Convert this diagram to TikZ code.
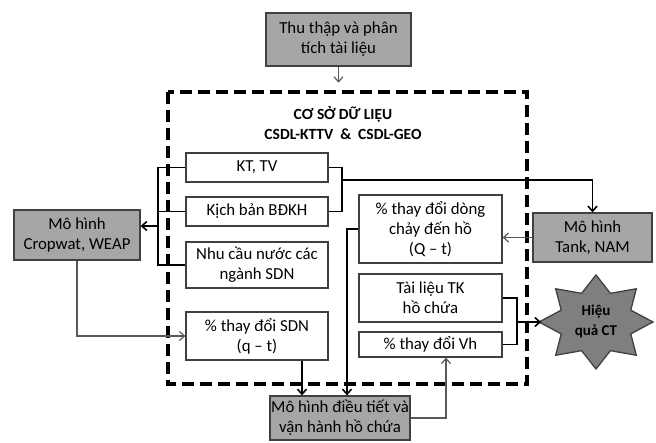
\documentclass[tikz,border=0pt]{standalone}
\usepackage{fontspec}
\setmainfont{Carlito}
\usetikzlibrary{arrows.meta,calc}
\definecolor{boxline}{HTML}{404040}
\definecolor{boxgray}{HTML}{A6A6A6}
\definecolor{stargray}{HTML}{7F7F7F}
\definecolor{thingray}{HTML}{595959}
\begin{document}
\begin{tikzpicture}[x=1pt,y=-1pt,
  box/.style={draw=boxline, line width=1.3pt, fill=white, align=center, inner sep=1pt,
    font=\fontsize{16.8}{20}\selectfont},
  gbox/.style={box, fill=boxgray},
  blackline/.style={draw=black, line width=1.8pt},
  blackarrow/.style={blackline, -{Straight Barb[length=5pt,width=9pt,line width=1.6pt]}},
  grayline/.style={draw=thingray, line width=1.2pt},
  grayarrow/.style={grayline, -{Straight Barb[length=5pt,width=9pt,line width=1.2pt]}},
  dashbox/.style={draw=black, line width=3.6pt, dash pattern=on 12pt off 6pt},
  starstyle/.style={fill=stargray, draw=boxline, line width=1.3pt},
  title/.style={align=center, font=\fontsize{15.5}{20}\selectfont\bfseries},
  startext/.style={align=center, font=\fontsize{15}{20}\selectfont\bfseries}
]
\useasboundingbox (0,0) rectangle (656,442);

% dashed database frame
\draw[dashbox] (168,92) rectangle (527,384);
\node[title] (db) at (343,123) {CƠ SỞ DỮ LIỆU\\CSDL-KTTV\ \ \&\ \ CSDL-GEO};

% boxes
\node[gbox, minimum width=145pt, minimum height=53pt] (thu) at (338.5,39.5) {Thu thập và phân\\tích tài liệu};
\node[box, minimum width=142pt, minimum height=29pt] (kttv) at (257,167.5) {KT, TV};
\node[box, minimum width=142pt, minimum height=29pt] (kb) at (257,211.5) {Kịch bản BĐKH};
\node[box, minimum width=142pt, minimum height=46pt] (nc) at (257,265) {Nhu cầu nước các\\ngành SDN};
\node[box, minimum width=142pt, minimum height=48pt] (sdn) at (257,336) {\% thay đổi SDN\\(q – t)};
\node[box, minimum width=143pt, minimum height=68pt] (dc) at (430.5,229) {\% thay đổi dòng\\chảy đến hồ\\(Q – t)};
\node[box, minimum width=143pt, minimum height=48pt] (tk) at (430.5,298) {Tài liệu TK\\hồ chứa};
\node[box, minimum width=143pt, minimum height=25pt] (vh) at (430.5,344.5) {\% thay đổi Vh};
\node[gbox, minimum width=126pt, minimum height=50pt] (crop) at (77,235) {Mô hình\\Cropwat, WEAP};
\node[gbox, minimum width=119pt, minimum height=49pt] (tank) at (592.5,237.5) {Mô hình\\Tank, NAM};
\node[gbox, minimum width=140pt, minimum height=44pt] (bot) at (340,418) {Mô hình điều tiết và\\vận hành hồ chứa};

% star
\path[starstyle, shift={(596,322)}] (90:57 and 47)
  \foreach \k in {0,...,7}{ -- ({112.5+45*\k}:{57*0.66} and {47*0.66}) -- ({135+45*\k}:57 and 47)} -- cycle;
\node[startext] (star) at (596,321) {Hiệu\\quả CT};
\coordinate (starL) at (541,322);

% helper coordinates
\coordinate (Lb) at (158,0);
\coordinate (Rb) at (342,180);
\coordinate (Rb2) at (517,322);
\coordinate (dcx) at (347,0);
\coordinate (sdnx) at (302,0);
\coordinate (vhx) at (446,0);

% connectors
\draw[grayarrow] (thu.south) -- ++(0,16);

\draw[blackline] (kttv.west) -| (Lb |- nc.west) -- (nc.west);
\draw[blackline] (kb.west) -- (Lb |- kb.west);
\draw[blackarrow] (Lb |- 0,226) -- (crop.east |- 0,226);

\draw[blackline] (kttv.east) -| (Rb |- kb.east) -- (kb.east);
\draw[blackarrow] (Rb) -| (tank.north);

\draw[grayarrow] (tank.west) -- (tank.west -| dc.east);
\draw[blackarrow] (dc.west) -| (dcx |- bot.north);

\draw[grayarrow] (crop.south) |- (sdn.west);
\draw[blackarrow] (sdnx |- sdn.south) -- (sdnx |- bot.north);

\draw[blackline] (tk.east) -| (Rb2 |- vh.east) -- (vh.east);
\draw[blackarrow] (Rb2) -- (starL);

\draw[grayarrow] (bot.east) -| (vhx |- vh.south);
\end{tikzpicture}
\end{document}
